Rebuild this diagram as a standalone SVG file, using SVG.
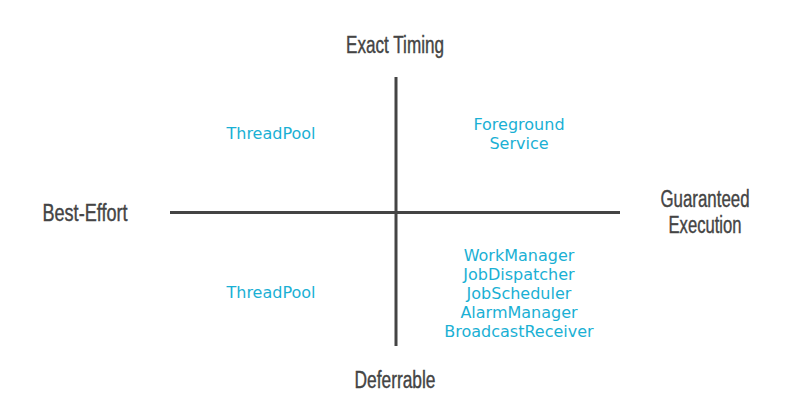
<svg xmlns="http://www.w3.org/2000/svg" width="794" height="418" viewBox="0 0 794 418">
  <style>
    .axis { stroke: #444444; stroke-width: 3; fill: none; }
    .pole { font-family: "Liberation Sans", Arial, sans-serif; font-size: 23px; fill: #444444; stroke: #444444; stroke-width: 0.4; text-anchor: middle; }
    .tech { font-family: "DejaVu Sans", Verdana, sans-serif; font-size: 16px; fill: #1ab0d4; text-anchor: middle; }
  </style>
  <rect width="794" height="418" fill="#ffffff"/>
  <g id="axes">
    <line class="axis" x1="170" y1="212.5" x2="620" y2="212.5"/>
    <line class="axis" x1="396" y1="77" x2="396" y2="346"/>
  </g>
  <!-- axis poles: narrow headline lettering -->
  <g id="pole-top"><text class="pole" x="395" y="53" textLength="98" lengthAdjust="spacingAndGlyphs">Exact Timing</text></g>
  <g id="pole-left"><text class="pole" x="85" y="221" textLength="85" lengthAdjust="spacingAndGlyphs">Best-Effort</text></g>
  <g id="pole-right">
    <text class="pole" x="705" y="207" textLength="89" lengthAdjust="spacingAndGlyphs">Guaranteed</text>
    <text class="pole" x="705" y="233" textLength="73" lengthAdjust="spacingAndGlyphs">Execution</text>
  </g>
  <g id="pole-bottom"><text class="pole" x="395" y="388" textLength="81" lengthAdjust="spacingAndGlyphs">Deferrable</text></g>
  <g id="q-top-left"><text class="tech" x="271" y="139">ThreadPool</text></g>
  <g id="q-top-right">
    <text class="tech" x="519" y="130">Foreground</text>
    <text class="tech" x="519" y="149">Service</text>
  </g>
  <g id="q-bottom-left"><text class="tech" x="271" y="298">ThreadPool</text></g>
  <g id="q-bottom-right">
    <text class="tech" x="519" y="261">WorkManager</text>
    <text class="tech" x="519" y="280">JobDispatcher</text>
    <text class="tech" x="519" y="299">JobScheduler</text>
    <text class="tech" x="519" y="318">AlarmManager</text>
    <text class="tech" x="519" y="337">BroadcastReceiver</text>
  </g>
</svg>
